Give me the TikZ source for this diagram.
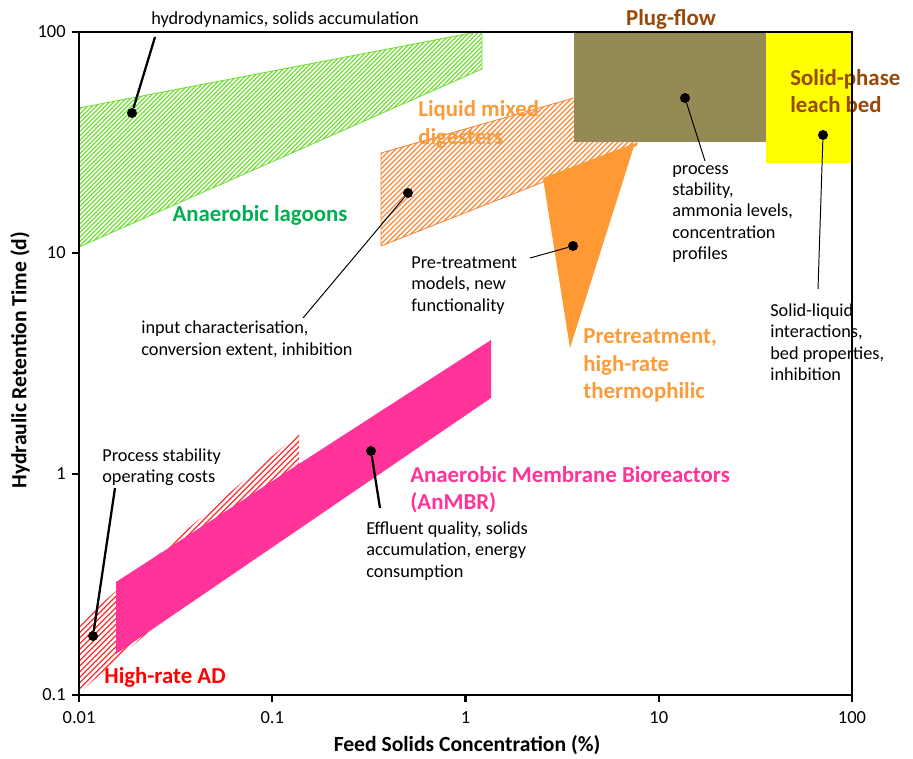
\documentclass[tikz,border=0pt]{standalone}
\usepackage{fontspec}
\setmainfont{Carlito}
\usepackage{xcolor}
\definecolor{lagoonGreen}{RGB}{0, 176, 80}
\definecolor{hatchGreen}{RGB}{115, 222, 55}
\definecolor{hatchOrange}{RGB}{245, 135, 55}
\definecolor{labelOrange}{RGB}{250, 155, 60}
\definecolor{pretreatOrange}{RGB}{255, 153, 51}
\definecolor{plugOlive}{RGB}{148, 138, 84}
\definecolor{leachYellow}{RGB}{255, 255, 0}
\definecolor{labelBrown}{RGB}{152, 72, 7}
\definecolor{membranePink}{RGB}{255, 51, 153}
\definecolor{highRed}{RGB}{255, 0, 0}
\definecolor{hatchRed}{RGB}{255, 45, 45}

\tikzset{
    notetext/.style={font=\fontsize{10.4}{12.2}\selectfont, align=left, inner sep=0pt},
    zonelabel/.style={font=\fontsize{13}{15.5}\selectfont\bfseries, align=left, inner sep=0pt},
    axistitle/.style={font=\fontsize{12.3}{14}\selectfont\bfseries, inner sep=0pt},
    ticklabel/.style={font=\fontsize{10.5}{12}\selectfont, inner sep=0pt},
    spot/.style={circle, fill=black, inner sep=0pt, minimum size=0.2cm},
    leader/.style={line width=0.55pt},
    heavyleader/.style={line width=1.3pt},
    hatchline/.style={line width=0.7pt}
}

\begin{document}
\begin{tikzpicture}[x=0.02cm, y=-0.02cm]
        \useasboundingbox (0, 0) rectangle (913, 758);

        % hatched zones
        \begin{scope}
            \clip (79, 108) -- (482, 31) -- (482, 69) -- (79, 247) -- cycle;
            \foreach \a in {-185, -180.6, ..., 485}
                \draw[hatchline, hatchGreen] (\a, 260) -- ++(260, -260);
        \end{scope}
        \draw[hatchGreen, line width=0.5pt] (79, 108) -- (482, 31) -- (482, 69) -- (79, 247) -- cycle;

        \begin{scope}
            \clip (381, 153) -- (637, 80) -- (637, 145) -- (381, 246) -- cycle;
            \foreach \a in {205, 210, ..., 640}
                \draw[hatchline, hatchOrange] (\a, 250) -- ++(175, -175);
        \end{scope}
        \draw[hatchOrange, line width=0.5pt] (381, 153) -- (637, 80) -- (637, 145) -- (381, 246) -- cycle;

        \begin{scope}
            \clip (79, 623) -- (299, 433) -- (299, 500) -- (79, 693) -- cycle;
            \foreach \a in {-195, -189.4, ..., 300}
                \draw[hatchline, hatchRed] (\a, 700) -- ++(270, -270);
        \end{scope}

        % filled zones
        \fill[membranePink] (116, 582) -- (491, 340) -- (491, 398) -- (116, 654) -- cycle;
        \fill[pretreatOrange] (543, 178) -- (635, 143) -- (570, 348) -- cycle;
        \fill[plugOlive] (574, 33) rectangle (768, 142);
        \fill[leachYellow] (766, 33) rectangle (852, 163);

        % zone labels
        \node[zonelabel, text=lagoonGreen] (lagoons) at (260, 215) {Anaerobic lagoons};
        \node[zonelabel, text=labelOrange, anchor=west] (liquid) at (418, 124.5) {Liquid mixed\\digesters};
        \node[zonelabel, text=labelBrown] (plug) at (671, 19) {Plug-flow};
        \node[zonelabel, text=labelBrown, anchor=west] (leach) at (790, 91) {Solid-phase\\leach bed};
        \node[zonelabel, text=labelOrange, anchor=west] (pretreat) at (583, 365.5) {Pretreatment,\\high-rate\\thermophilic};
        \node[zonelabel, text=membranePink, anchor=west] (anmbr) at (410, 489.5) {Anaerobic Membrane Bioreactors\\(AnMBR)};
        \node[zonelabel, text=highRed, anchor=west] (highrate) at (104, 677) {High-rate AD};

        % notes
        \node[notetext] (nLagoons) at (285, 20) {hydrodynamics, solids accumulation};
        \node[notetext, anchor=west] (nLiquid) at (141, 339.5) {input characterisation,\\conversion extent, inhibition};
        \node[notetext, anchor=west] (nPretreat) at (411, 285.5) {Pre-treatment\\models, new\\functionality};
        \node[notetext, anchor=west] (nPlug) at (672, 214) {process\\stability,\\ammonia levels,\\concentration\\profiles};
        \node[notetext, anchor=west] (nLeach) at (770, 342) {Solid-liquid\\interactions,\\bed properties,\\inhibition};
        \node[notetext, anchor=west] (nAnmbr) at (366, 551) {Effluent quality, solids\\accumulation, energy\\consumption};
        \node[notetext, anchor=west] (nHighrate) at (102, 467.5) {Process stability\\operating costs};

        % key points
        \node[spot] (pLagoons) at (132, 113) {};
        \node[spot] (pLiquid) at (408, 193) {};
        \node[spot] (pPretreat) at (573, 246) {};
        \node[spot] (pPlug) at (685, 98) {};
        \node[spot] (pLeach) at (823, 135) {};
        \node[spot] (pAnmbr) at (371, 451) {};
        \node[spot] (pHighrate) at (93, 636) {};

        \coordinate (eLagoons) at (155, 37);
        \coordinate (eLiquid) at (303, 318);
        \coordinate (ePretreat) at (530, 258);
        \coordinate (ePlug) at (705, 161);
        \coordinate (eLeach) at (818, 289);
        \coordinate (eAnmbr) at (380, 508);
        \coordinate (eHighrate) at (115, 488);

        \draw[heavyleader] (pLagoons) -- (eLagoons);
        \draw[leader] (pLiquid) -- (eLiquid);
        \draw[leader] (pPretreat) -- (ePretreat);
        \draw[leader] (pPlug) -- (ePlug);
        \draw[leader] (pLeach) -- (eLeach);
        \draw[heavyleader] (pAnmbr) -- (eAnmbr);
        \draw[heavyleader] (pHighrate) -- (eHighrate);

        % frame and axes
        \draw[line width=0.75pt] (79, 32) -- (852, 32) -- (852, 695);
        \draw[line width=1.15pt] (79, 32) -- (79, 695) -- (852, 695);
        \foreach \x/\lab [count=\i] in {79/0.01, 272.25/0.1, 465.5/1, 658.75/10, 852/100} {
            \draw[line width=1.15pt] (\x, 695) -- (\x, 702);
            \node[ticklabel] (xlab\i) at (\x, 718) {\lab};
        }
        \foreach \y/\lab [count=\i] in {32/100, 253/10, 474/1, 695/0.1} {
            \draw[line width=1.15pt] (79, \y) -- (72, \y);
            \node[ticklabel, anchor=east] (ylab\i) at (66, \y) {\lab};
        }
        \node[axistitle] (xtitle) at (467, 745) {Feed Solids Concentration (\%)};
        \node[axistitle, rotate=90] (ytitle) at (20, 360) {Hydraulic Retention Time (d)};
    \end{tikzpicture}
\end{document}
